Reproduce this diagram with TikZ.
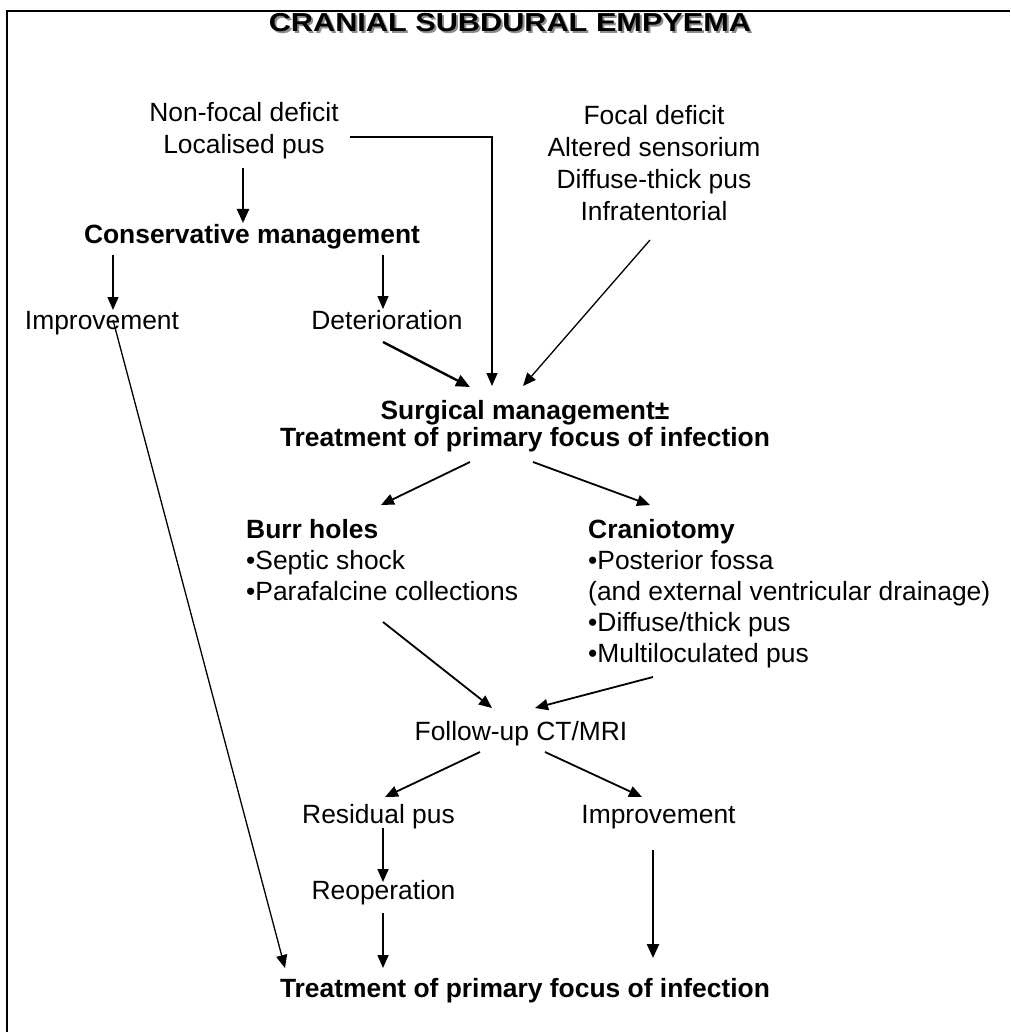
\documentclass[tikz,border=0pt]{standalone}
\usepackage{fontspec}
\setmainfont{Liberation Sans}
\usetikzlibrary{arrows.meta,calc}

\begin{document}
\begin{tikzpicture}[x=1pt,y=-1pt,
  >={Triangle[length=13pt,width=11pt]},
  txt/.style={inner sep=0pt,align=center,font=\fontsize{26.4}{32}\selectfont},
  bld/.style={txt,font=\fontsize{26.4}{32}\selectfont\bfseries},
  lst/.style={txt,align=left,anchor=west,font=\fontsize{26.4}{31}\selectfont},
  thn/.style={->,line width=1.3pt},
  mid/.style={->,line width=1.8pt},
  thk/.style={-{Triangle[length=14pt,width=12pt]},line width=2.4pt}]
  \useasboundingbox (0,0) rectangle (1010,1032);
  \draw[line width=2.3pt] (7,1032) -- (7,11) -- (1010,11);

  % title with its shadow
  \node[bld,font=\fontsize{26}{30}\selectfont\bfseries,text=black!45] (titleshade) at (512,24.5) {\scalebox{1.18}[1]{CRANIAL SUBDURAL EMPYEMA}};
  \node[bld,font=\fontsize{26}{30}\selectfont\bfseries] (title) at (510,22.5) {\scalebox{1.18}[1]{CRANIAL SUBDURAL EMPYEMA}};

  \node[txt] (nonfocal) at (244,131) {Non-focal deficit\\Localised pus};
  \node[txt] (focal) at (654,163.5) {Focal deficit\\Altered sensorium\\Diffuse-thick pus\\Infratentorial};
  \node[bld] (cons) at (252,237) {Conservative management};
  \node[txt] (impL) at (102,323) {Improvement};
  \node[txt] (det) at (387,320) {Deterioration};
  \node[bld,font=\fontsize{26.4}{27.5}\selectfont\bfseries] (surg) at (525,426) {Surgical management±\\Treatment of primary focus of infection};
  \node[lst] (burr) at (246,560) {\textbf{Burr holes}\\•Septic shock\\•Parafalcine collections};
  \node[lst] (cran) at (588,593.6) {\textbf{Craniotomy}\\•Posterior fossa\\(and external ventricular drainage)\\•Diffuse/thick pus\\•Multiloculated pus};
  \node[txt] (follow) at (521,734) {Follow-up CT/MRI};
  \node[txt] (resid) at (378.5,817) {Residual pus};
  \node[txt] (impR) at (658.5,817) {Improvement};
  \node[txt] (reop) at (383.5,893) {Reoperation};
  \node[bld] (treat) at (525,991) {Treatment of primary focus of infection};

  % connectors
  \draw[thk] ($(nonfocal)+(-1,37)$) -- ($(cons)+(-9,-14)$);
  \draw[thn] ($(cons)+(-139,18)$) -- ($(impL)+(11,-13)$);
  \draw[thn] ($(cons)+(131,18)$) -- ($(det)+(-4,-11)$);
  \draw[thn] ($(nonfocal)+(106,6)$) -| ($(surg)+(-33,-40)$);
  \draw[thn] ($(focal)+(-4,76.5)$) -- ($(surg)+(-2,-40)$);
  \draw[thk] ($(det)+(-4,22)$) -- ($(surg)+(-55,-39)$);
  \draw[mid] ($(surg)+(-55,36)$) -- ($(burr.west)+(135,-55)$);
  \draw[mid] ($(surg)+(8,36)$) -- ($(cran.west)+(62,-88.6)$);
  \draw[mid] ($(burr.west)+(137,62)$) -- ($(follow)+(-29,-26)$);
  \draw[mid] ($(cran.west)+(65,83.4)$) -- ($(follow)+(14,-26)$);
  \draw[mid] ($(follow)+(-41,18)$) -- ($(resid)+(6.5,-20)$);
  \draw[mid] ($(follow)+(24,18)$) -- ($(impR)+(-16.5,-20)$);
  \draw[mid] ($(resid)+(4.5,11)$) -- ($(reop)+(-0.5,-11)$);
  \draw[mid] ($(reop)+(-0.5,20)$) -- ($(treat)+(-142,-23)$);
  \draw[thk] ($(impR)+(-5.5,33)$) -- ($(treat)+(128,-33)$);
  \draw[thn] ($(impL)+(11,-3)$) -- ($(treat)+(-240,-23)$);
\end{tikzpicture}
\end{document}
